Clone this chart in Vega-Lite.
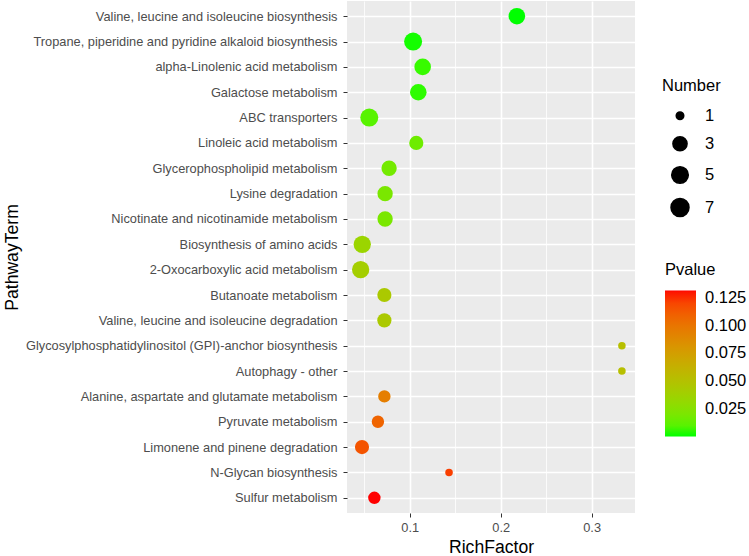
{
  "$schema": "https://vega.github.io/schema/vega-lite/v6.json",
  "width": 288,
  "height": 512,
  "autosize": {"type": "none"},
  "padding": {"left": 347, "top": 1, "right": 114, "bottom": 43},
  "background": "white",
  "config": {
    "font": "Liberation Sans",
    "view": {"fill": "#EBEBEB", "stroke": null}
  },
  "data": {
    "values": [
      {"PathwayTerm": "Valine, leucine and isoleucine biosynthesis", "RichFactor": 0.2178, "Number": 5, "Pvalue": 0.0003},
      {"PathwayTerm": "Tropane, piperidine and pyridine alkaloid biosynthesis", "RichFactor": 0.1037, "Number": 7, "Pvalue": 0.001},
      {"PathwayTerm": "alpha-Linolenic acid metabolism", "RichFactor": 0.1142, "Number": 5, "Pvalue": 0.004},
      {"PathwayTerm": "Galactose metabolism", "RichFactor": 0.1094, "Number": 5, "Pvalue": 0.003},
      {"PathwayTerm": "ABC transporters", "RichFactor": 0.0555, "Number": 7, "Pvalue": 0.01},
      {"PathwayTerm": "Linoleic acid metabolism", "RichFactor": 0.1072, "Number": 3, "Pvalue": 0.016},
      {"PathwayTerm": "Glycerophospholipid metabolism", "RichFactor": 0.0773, "Number": 4, "Pvalue": 0.018},
      {"PathwayTerm": "Lysine degradation", "RichFactor": 0.0729, "Number": 4, "Pvalue": 0.02},
      {"PathwayTerm": "Nicotinate and nicotinamide metabolism", "RichFactor": 0.0729, "Number": 4, "Pvalue": 0.02},
      {"PathwayTerm": "Biosynthesis of amino acids", "RichFactor": 0.0478, "Number": 6, "Pvalue": 0.035},
      {"PathwayTerm": "2-Oxocarboxylic acid metabolism", "RichFactor": 0.046, "Number": 6, "Pvalue": 0.04},
      {"PathwayTerm": "Butanoate metabolism", "RichFactor": 0.0721, "Number": 3, "Pvalue": 0.044},
      {"PathwayTerm": "Valine, leucine and isoleucine degradation", "RichFactor": 0.0721, "Number": 3, "Pvalue": 0.044},
      {"PathwayTerm": "Glycosylphosphatidylinositol (GPI)-anchor biosynthesis", "RichFactor": 0.3333, "Number": 1, "Pvalue": 0.052},
      {"PathwayTerm": "Autophagy - other", "RichFactor": 0.3333, "Number": 1, "Pvalue": 0.052},
      {"PathwayTerm": "Alanine, aspartate and glutamate metabolism", "RichFactor": 0.0721, "Number": 2, "Pvalue": 0.095},
      {"PathwayTerm": "Pyruvate metabolism", "RichFactor": 0.065, "Number": 2, "Pvalue": 0.108},
      {"PathwayTerm": "Limonene and pinene degradation", "RichFactor": 0.0475, "Number": 3, "Pvalue": 0.115},
      {"PathwayTerm": "N-Glycan biosynthesis", "RichFactor": 0.1432, "Number": 1, "Pvalue": 0.122},
      {"PathwayTerm": "Sulfur metabolism", "RichFactor": 0.0611, "Number": 2, "Pvalue": 0.1315}
    ]
  },
  "mark": {"type": "circle", "opacity": 1},
  "encoding": {
    "x": {
      "field": "RichFactor",
      "type": "quantitative",
      "scale": {"domain": [0.031, 0.3477], "nice": false, "zero": false},
      "axis": {
        "title": "RichFactor",
        "values": [0.05, 0.1, 0.15, 0.2, 0.25, 0.3],
        "format": ".2f",
        "labelExpr": "round(datum.value*100) % 10 == 0 ? format(datum.value, '.1f') : ''",
        "domain": false,
        "grid": true,
        "gridColor": "white",
        "gridWidth": {"condition": {"test": "round(datum.value*100) % 10 != 0", "value": 0.8}, "value": 1.6},
        "ticks": true,
        "tickColor": "#333333",
        "tickSize": 4,
        "tickOpacity": {"condition": {"test": "round(datum.value*100) % 10 != 0", "value": 0}, "value": 1},
        "labelColor": "#4D4D4D",
        "labelFontSize": 12.8,
        "labelPadding": 4,
        "titleFontSize": 17.6,
        "titleFontWeight": "normal",
        "titleColor": "black",
        "titlePadding": 5
      }
    },
    "y": {
      "field": "PathwayTerm",
      "type": "nominal",
      "sort": null,
      "scale": {"padding": 0.6},
      "axis": {
        "title": "PathwayTerm",
        "domain": false,
        "grid": true,
        "gridColor": "white",
        "gridWidth": 1.6,
        "tickColor": "#333333",
        "tickSize": 4,
        "labelColor": "#4D4D4D",
        "labelFontSize": 12.8,
        "labelPadding": 6,
        "labelLimit": 400,
        "titleFontSize": 17.6,
        "titleFontWeight": "normal",
        "titleColor": "black",
        "titleX": -335,
        "titleY": 256,
        "titleBaseline": "middle",
        "titleAlign": "center",
        "titleAngle": 270
      }
    },
    "size": {
      "field": "Number",
      "type": "quantitative",
      "scale": {"type": "linear", "domain": [1, 2, 3, 4, 5, 6, 7], "range": [57, 154, 201, 235, 275, 299, 324]},
      "legend": {
        "title": "Number",
        "orient": "none",
        "legendX": 315,
        "legendY": 77,
        "values": [1, 3, 5, 7],
        "symbolFillColor": "black",
        "symbolStrokeColor": "black",
        "symbolType": "circle",
        "symbolOffset": 8,
        "titleFontSize": 16.5,
        "titleFontWeight": "normal",
        "titleColor": "black",
        "titlePadding": 13,
        "labelFontSize": 16.5,
        "labelColor": "black",
        "labelOffset": 15,
        "rowPadding": 9
      }
    },
    "color": {
      "field": "Pvalue",
      "type": "quantitative",
      "scale": {"range": ["#00FF00", "#FF0000"], "interpolate": "lab"},
      "legend": {
        "title": "Pvalue",
        "orient": "none",
        "legendX": 318,
        "legendY": 261,
        "type": "gradient",
        "direction": "vertical",
        "values": [0.025, 0.05, 0.075, 0.1, 0.125],
        "format": ".3f",
        "gradientLength": 146,
        "gradientThickness": 31,
        "gradientStrokeWidth": 0,
        "titleFontSize": 16.5,
        "titleFontWeight": "normal",
        "titleColor": "black",
        "titlePadding": 12,
        "labelFontSize": 16.5,
        "labelColor": "black",
        "labelOffset": 9,
        "labelOverlap": false
      }
    }
  }
}
